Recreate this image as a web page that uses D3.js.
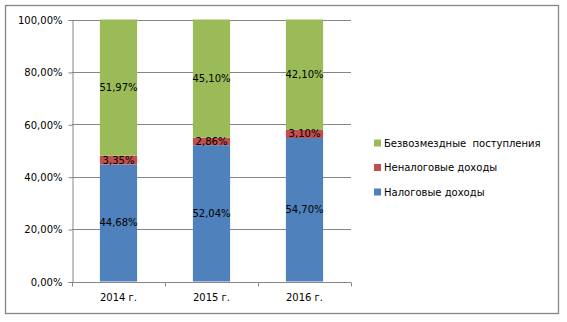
<!DOCTYPE html>
<html>
<head>
<meta charset="utf-8">
<script src="https://cdn.jsdelivr.net/npm/d3@7"></script>
<style>
  html, body { margin: 0; padding: 0; background: #fff; }
  svg { display: block; font-family: "DejaVu Sans", sans-serif; }
</style>
</head>
<body>
<div id="chart"></div>
<script>
// данные (доли, %)
const years = ["2014 г.", "2015 г.", "2016 г."];
const taxIncome = [44.68, 52.04, 54.70];      // Налоговые доходы
const nonTaxIncome = [3.35, 2.86, 3.10];      // Неналоговые доходы
const grants = [51.97, 45.10, 42.10];         // Безвозмездные поступления
const seriesNames = ["Налоговые доходы", "Неналоговые доходы", "Безвозмездные  поступления"];
const yTicks = [0, 0.2, 0.4, 0.6, 0.8, 1];

const colors = ["#4F81BD", "#C0504D", "#9BBB59"];
const width = 567, height = 322;
const plot = { left: 72, top: 19.5, right: 351, bottom: 281.5 };

const rows = years.map((y, i) => ({
  year: y,
  s0: taxIncome[i],
  s1: nonTaxIncome[i],
  s2: grants[i]
}));

const stack = d3.stack().keys(["s0", "s1", "s2"]).offset(d3.stackOffsetExpand);
const series = stack(rows);

const svg = d3.select("#chart").append("svg")
  .attr("width", width).attr("height", height);

// рамка диаграммы
svg.append("rect")
  .attr("x", 5.5).attr("y", 5.5)
  .attr("width", 553).attr("height", 308)
  .attr("fill", "#fff")
  .attr("stroke", "#868686")
  .attr("stroke-width", 1.3);

const x = d3.scaleBand().domain(years).range([plot.left, plot.right]).padding(0);
const y = d3.scaleLinear().domain([0, 1]).range([plot.bottom, plot.top]);
const barW = x.bandwidth() * 0.4;
const fmtPct = v => v.toFixed(2).replace(".", ",") + "%";

// сетка
svg.append("g")
  .selectAll("line")
  .data(yTicks.slice(1))
  .join("line")
  .attr("x1", plot.left).attr("x2", plot.right)
  .attr("y1", d => Math.round(y(d)) + 0.5).attr("y2", d => Math.round(y(d)) + 0.5)
  .attr("stroke", "#868686");

// ось Y
const axY = svg.append("g")
  .attr("transform", `translate(${plot.left + 0.5},0.5)`)
  .call(d3.axisLeft(y).tickValues(yTicks).tickSize(4).tickPadding(6)
    .tickFormat(d => (d * 100).toFixed(2).replace(".", ",") + "%"));
axY.selectAll("line, path").attr("stroke", "#868686");
axY.selectAll("text").style("font-size", "10px").attr("fill", "#000")
  .style("font-family", "DejaVu Sans");

// столбцы
svg.append("g")
  .selectAll("g")
  .data(series)
  .join("g")
  .attr("fill", (d, i) => colors[i])
  .selectAll("rect")
  .data(d => d)
  .join("rect")
  .attr("x", d => x(d.data.year) + (x.bandwidth() - barW) / 2)
  .attr("y", d => y(d[1]))
  .attr("width", barW)
  .attr("height", d => y(d[0]) - y(d[1]));

// подписи значений
const srcVals = [taxIncome, nonTaxIncome, grants];
series.forEach((s, si) => {
  svg.append("g")
    .selectAll("text")
    .data(s)
    .join("text")
    .attr("x", d => x(d.data.year) + x.bandwidth() / 2)
    .attr("y", d => y((d[0] + d[1]) / 2))
    .attr("dy", "0.35em")
    .attr("text-anchor", "middle")
    .style("font-size", "10px")
    .attr("fill", "#000")
    .text((d, i) => fmtPct(srcVals[si][i]));
});

// ось X
const axX = svg.append("g")
  .attr("transform", `translate(0,${Math.round(plot.bottom) + 0.5})`);
axX.append("line")
  .attr("x1", plot.left).attr("x2", plot.right)
  .attr("stroke", "#868686");
axX.selectAll("line.tick")
  .data([...years.map(d => x(d)), plot.right])
  .join("line")
  .attr("class", "tick")
  .attr("x1", d => Math.round(d) + 0.5).attr("x2", d => Math.round(d) + 0.5)
  .attr("y1", 0).attr("y2", 4)
  .attr("stroke", "#868686");
axX.selectAll("text")
  .data(years)
  .join("text")
  .attr("x", d => x(d) + x.bandwidth() / 2)
  .attr("y", 18)
  .attr("text-anchor", "middle")
  .style("font-size", "10px")
  .attr("fill", "#000")
  .text(d => d);

// легенда
const legendOrder = [2, 1, 0];
const legend = svg.append("g")
  .selectAll("g")
  .data(legendOrder)
  .join("g")
  .attr("transform", (d, i) => `translate(374,${143 + i * 24.5})`);
legend.append("rect")
  .attr("x", 0).attr("y", -3.5)
  .attr("width", 7).attr("height", 7)
  .attr("fill", d => colors[d]);
legend.append("text")
  .attr("x", 10).attr("dy", "0.35em")
  .style("font-size", "10px")
  .style("white-space", "pre")
  .attr("fill", "#000")
  .text(d => seriesNames[d]);
</script>
</body>
</html>
